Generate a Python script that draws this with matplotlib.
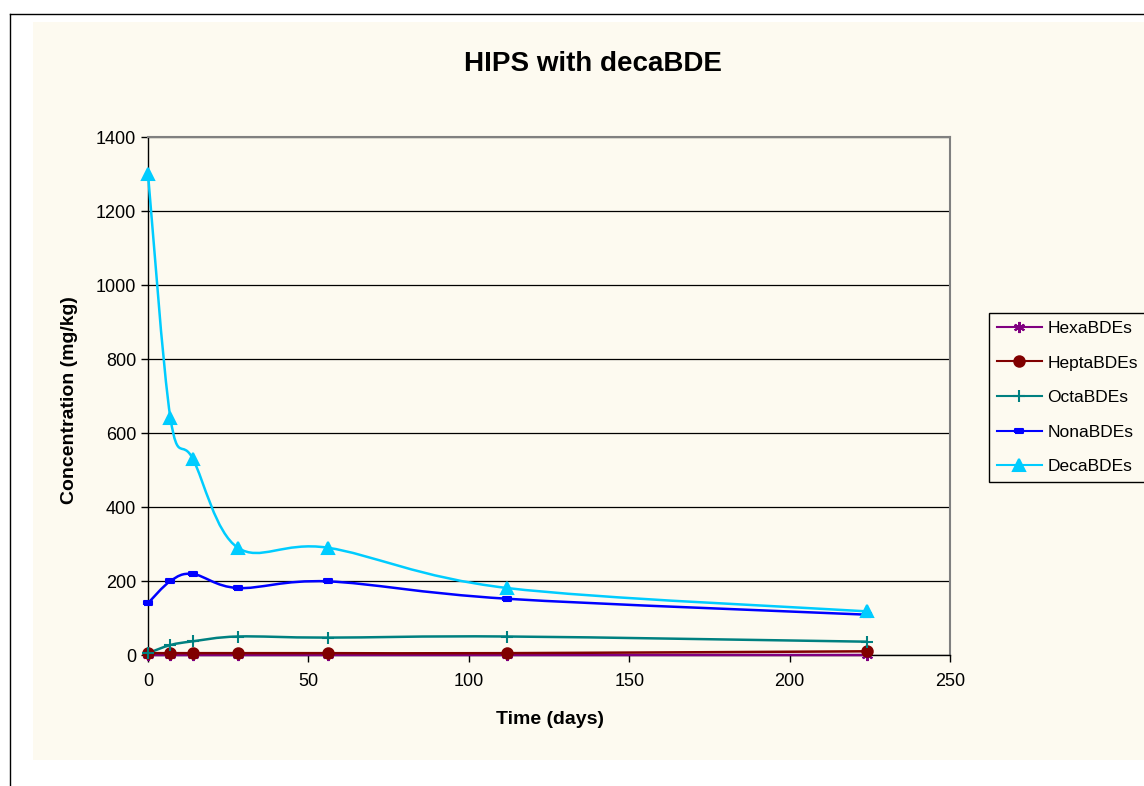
import matplotlib
matplotlib.use("Agg")
import matplotlib.pyplot as plt
from matplotlib.path import Path
from matplotlib.patches import PathPatch, Rectangle
from matplotlib.lines import Line2D

plt.rcParams['font.family'] = ['Liberation Sans', 'DejaVu Sans']

days = [0, 7, 14, 28, 56, 112, 224]
hexa = [0, 0, 0, 0, 0, 0, 0]
hepta = [5, 5, 5, 5, 5, 5, 10]
octa = [5, 27, 37, 50, 47, 50, 36]
nona = [140, 200, 219, 181, 199, 152, 109]
deca = [1300, 640, 530, 290, 290, 181, 118]

series_names = ['HexaBDEs', 'HeptaBDEs', 'OctaBDEs', 'NonaBDEs', 'DecaBDEs']
series_values = [hexa, hepta, octa, nona, deca]
colors = ['#800080', '#800000', '#008080', '#0000FF', '#00CCFF']
bar = [(-1, -0.45), (1, -0.45), (1, 0.45), (-1, 0.45), (-1, -0.45)]
markers = [(6, 2, 0), 'o', '+', bar, '^']
msizes = [8, 7.5, 8.5, 5.5, 8.5]

bg = '#FDFAF0'


def smooth_path(xs, ys):
    # Excel-style smoothed line: cubic bezier through each point
    pts = list(zip(xs, ys))
    n = len(pts)
    verts = [pts[0]]
    codes = [Path.MOVETO]
    for i in range(n - 1):
        p0 = pts[i - 1] if i > 0 else pts[i]
        p1 = pts[i]
        p2 = pts[i + 1]
        p3 = pts[i + 2] if i + 2 < n else pts[i + 1]
        c1 = (p1[0] + (p2[0] - p0[0]) / 6, p1[1] + (p2[1] - p0[1]) / 6)
        c2 = (p2[0] - (p3[0] - p1[0]) / 6, p2[1] - (p3[1] - p1[1]) / 6)
        verts += [c1, c2, p2]
        codes += [Path.CURVE4] * 3
    return Path(verts, codes)


fig = plt.figure(figsize=(11.44, 7.86), dpi=100)
fig.patch.set_facecolor('white')
fig.patches.append(Rectangle((33 / 1144, 1 - 760 / 786), 1 - 33 / 1144, (760 - 22) / 786,
                             transform=fig.transFigure, facecolor=bg, edgecolor='none', zorder=-5))
fig.lines.append(Line2D([10 / 1144, 10 / 1144], [0, 1 - 14 / 786], transform=fig.transFigure,
                        color='black', lw=1, zorder=-5))
fig.lines.append(Line2D([10 / 1144, 1], [1 - 14 / 786, 1 - 14 / 786], transform=fig.transFigure,
                        color='black', lw=1, zorder=-5))

ax = fig.add_axes([148 / 1144, 131 / 786, (950 - 148) / 1144, (655 - 137) / 786])
ax.set_facecolor(bg)

handles = []
for name, vals, c, m, ms in zip(series_names, series_values, colors, markers, msizes):
    ax.add_patch(PathPatch(smooth_path(days, vals), facecolor='none', edgecolor=c, lw=1.8,
                           zorder=3, clip_on=False))
    ax.plot(days, vals, ls='none', marker=m, color=c, markersize=ms, mec=c, mew=1.5,
            zorder=4, clip_on=False)
    handles.append(Line2D([], [], color=c, lw=1.5, marker=m, markersize=ms, mec=c, mew=1.5))

ax.set_xlim(0, 250)
ax.set_ylim(0, 1400)
ax.set_xticks(range(0, 251, 50))
ax.set_yticks(range(0, 1401, 200))
ax.yaxis.grid(True, color='black', lw=0.9)
ax.set_axisbelow(True)
for s in ['top', 'right']:
    ax.spines[s].set_color('#808080')
    ax.spines[s].set_linewidth(1.5)
for s in ['left', 'bottom']:
    ax.spines[s].set_color('black')
    ax.spines[s].set_linewidth(1)
ax.tick_params(axis='both', labelsize=13, length=5, width=1, color='black', direction='out')
ax.tick_params(axis='x', pad=8)

fig.text(593 / 1144, 1 - 64 / 786, 'HIPS with decaBDE', ha='center', va='center',
         fontsize=20, fontweight='bold')
fig.text(550 / 1144, 1 - 720 / 786, 'Time (days)', ha='center', va='center',
         fontsize=14, fontweight='bold')
fig.text(70 / 1144, 1 - 400 / 786, 'Concentration (mg/kg)', ha='center', va='center',
         rotation=90, fontsize=14, fontweight='bold')

leg = fig.legend(handles, series_names, loc='upper left',
                 bbox_to_anchor=(989 / 1144, 1 - 313 / 786), fontsize=12.5,
                 frameon=True, fancybox=False, edgecolor='black', facecolor=bg,
                 framealpha=1, handlelength=2.6, borderpad=0.45, labelspacing=1.12,
                 handletextpad=0.3, borderaxespad=0)
leg.get_frame().set_linewidth(1)

fig.savefig('out.png', dpi=100, facecolor=fig.get_facecolor())
